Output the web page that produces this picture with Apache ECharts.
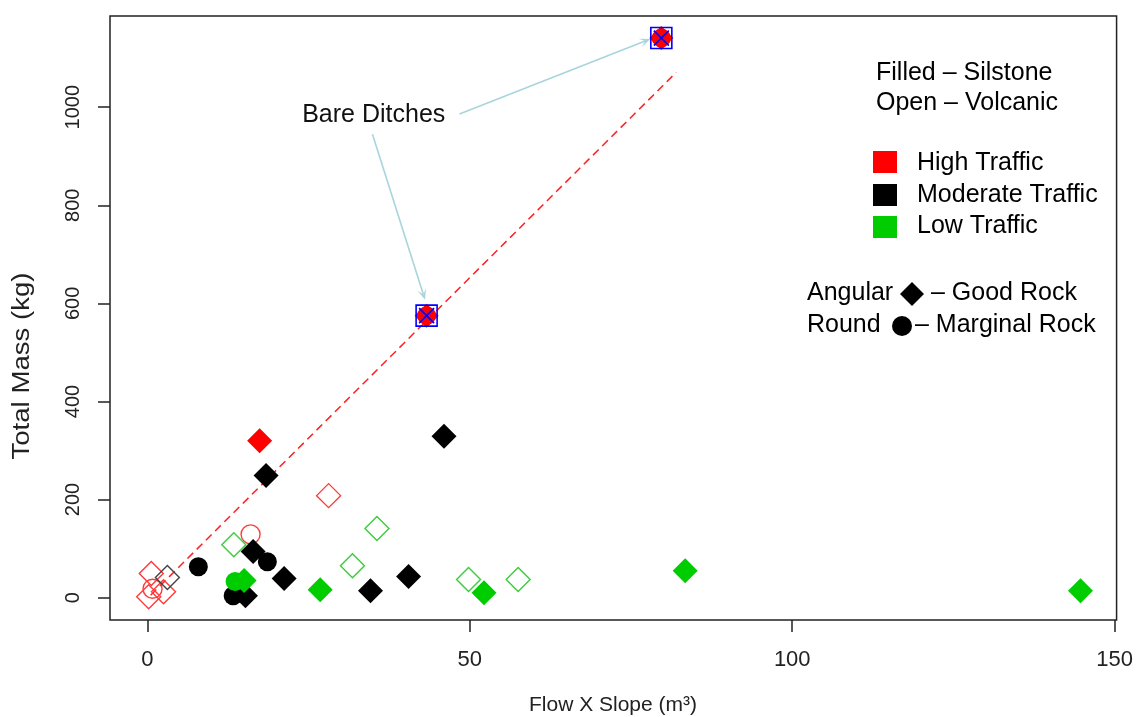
<!DOCTYPE html>
<html><head><meta charset="utf-8">
<script src="https://cdn.jsdelivr.net/npm/echarts@6/dist/echarts.min.js"></script>
<style>html,body{margin:0;padding:0;background:#fff}#c{width:1136px;height:717px}</style>
</head><body><div id="c"></div>
<script>
// ---- tick labels ----
const xTicks = [0, 50, 100, 150];
const yTicks = [0, 200, 400, 600, 800, 1000];

// ---- data: [Flow X Slope (m3), Total Mass (kg)] ----
// High traffic (red)
const redFilledDiamond = [[17.4, 320]];
const redOpenDiamond = [[28.1, 208], [0.6, 49], [0.2, 2], [2.5, 12]];
const redOpenCircle = [[16.0, 129], [0.8, 18]];
// Moderate traffic (black)
const blackFilledDiamond = [[18.4, 249], [46.0, 329], [16.4, 94], [21.2, 39], [15.2, 4], [34.6, 14], [40.5, 43]];
const blackFilledCircle = [[18.6, 73], [7.9, 63], [13.3, 4]];
const blackOpenDiamond = [[3.1, 41]];
// Low traffic (green)
const greenFilledDiamond = [[15.0, 35], [26.8, 16], [52.2, 10], [83.4, 55], [144.7, 14]];
const greenFilledCircle = [[13.6, 33]];
const greenOpenDiamond = [[13.4, 108], [31.8, 65], [35.6, 141], [49.8, 37], [57.5, 37]];
// Bare ditches (high traffic, silstone)
const bareDitches = [[43.3, 575], [79.7, 1141]];
// dashed trend line
const trendLine = [[0.5, 5], [82.0, 1071]];
// annotation arrows: from label to bare ditch points
const arrowStarts = [[48.4, 986], [34.9, 945]];
const arrowEnds = [[77.2, 1135], [42.8, 618]];
const annotationLabel = 'Bare Ditches';
const annotationPos = [35.1, 984];

const FONT = '"Liberation Sans", Arial, sans-serif';
const RED = '#ff0000', BLACK = '#000000', GREEN = '#00cd00';

function pts(name, data, symbol, size, filled, color, z, bw) {
  return {
    name, type: 'scatter', data, symbol, symbolSize: size, z: z || 3,
    silent: true,
    itemStyle: filled
      ? { color: color, borderWidth: 0, opacity: 1 }
      : { color: 'rgba(0,0,0,0)', borderColor: color, borderWidth: bw || 1.4, opacity: 1 },
    emphasis: { disabled: true }
  };
}

const chart = echarts.init(document.getElementById('c'), null, { renderer: 'canvas' });
const CROSS = 'path://M0,0L10,10M10,0L0,10';
const CHEVRON = 'path://M5,0L10,10L5,5L0,10Z';

const option = {
  animation: false,
  backgroundColor: '#ffffff',
  grid: { left: 110, right: 19, top: 16, bottom: 97, show: true, borderColor: '#222', borderWidth: 1.5, backgroundColor: 'transparent' },
  xAxis: {
    type: 'value', min: -5.8, max: 150.3,
    axisLine: { show: false, onZero: false },
    splitLine: { show: false },
    axisTick: { show: true, inside: false, length: 12, lineStyle: { color: '#222', width: 1.5 }, customValues: xTicks },
    axisLabel: { customValues: xTicks, margin: 29, fontSize: 22, fontFamily: FONT, color: '#222', formatter: v => String(v) }
  },
  yAxis: {
    type: 'value', min: -45.6, max: 1186,
    axisLine: { show: false, onZero: false },
    splitLine: { show: false },
    axisTick: { show: true, inside: false, length: 12, lineStyle: { color: '#222', width: 1.5 }, customValues: yTicks },
    axisLabel: { customValues: yTicks, rotate: 90, margin: 27, fontSize: 20, fontFamily: FONT, color: '#222', formatter: v => String(v) }
  },
  series: [
    {
      name: 'trend', type: 'line', data: trendLine, symbol: 'none', z: 2, silent: true,
      lineStyle: { color: '#ff2020', width: 1.5, type: [8, 5] }
    },
    {
      name: 'arrows', type: 'scatter', data: [], z: 2, silent: true,
      markLine: {
        silent: true, symbol: ['none', CHEVRON], symbolSize: [9, 11],
        label: { show: false },
        lineStyle: { color: '#a8d5dc', width: 1.6, type: 'solid' },
        emphasis: { disabled: true },
        data: arrowStarts.map((s, i) => [{ coord: s }, { coord: arrowEnds[i] }])
      },
      markPoint: {
        silent: true, symbol: 'rect', symbolSize: 1, itemStyle: { color: 'rgba(0,0,0,0)' },
        label: { show: true, formatter: annotationLabel, fontSize: 25, fontFamily: FONT, color: '#111', position: 'inside' },
        data: [{ coord: annotationPos }]
      }
    },
    pts('redOpenDiamond', redOpenDiamond, 'diamond', 24, false, '#ff3a3a'),
    pts('redOpenCircle', redOpenCircle, 'circle', 19, false, '#ff3a3a'),
    pts('blackOpenDiamond', blackOpenDiamond, 'diamond', 24, false, '#444444'),
    pts('greenOpenDiamond', greenOpenDiamond, 'diamond', 24, false, '#3ccc3c'),
    pts('blackFilledCircle', blackFilledCircle, 'circle', 19, true, BLACK),
    pts('blackFilledDiamond', blackFilledDiamond, 'diamond', 25, true, BLACK),
    pts('greenFilledCircle', greenFilledCircle, 'circle', 19, true, GREEN),
    pts('greenFilledDiamond', greenFilledDiamond, 'diamond', 25, true, GREEN),
    pts('redFilledDiamond', redFilledDiamond, 'diamond', 25, true, RED),
    pts('bareDiamond', bareDitches, 'diamond', 24, true, RED, 4),
    pts('bareCircle', bareDitches, 'circle', 19, true, RED, 4),
    pts('bareSquare', bareDitches, 'rect', 21, false, '#0000ff', 5, 1.6),
    pts('bareCross', bareDitches, CROSS, 15, false, '#0000ff', 5, 1.6)
  ],
  graphic: [
    { type: 'text', x: 876, y: 73, style: { text: 'Filled – Silstone', font: '25px ' + FONT, fill: '#000', verticalAlign: 'middle' } },
    { type: 'text', x: 876, y: 103, style: { text: 'Open – Volcanic', font: '25px ' + FONT, fill: '#000', verticalAlign: 'middle' } },
    { type: 'rect', shape: { x: 873, y: 151, width: 24, height: 22 }, style: { fill: RED } },
    { type: 'rect', shape: { x: 873, y: 184, width: 24, height: 22 }, style: { fill: BLACK } },
    { type: 'rect', shape: { x: 873, y: 216, width: 24, height: 22 }, style: { fill: GREEN } },
    { type: 'text', x: 917, y: 163, style: { text: 'High Traffic', font: '25px ' + FONT, fill: '#000', verticalAlign: 'middle' } },
    { type: 'text', x: 917, y: 195, style: { text: 'Moderate Traffic', font: '25px ' + FONT, fill: '#000', verticalAlign: 'middle' } },
    { type: 'text', x: 917, y: 226, style: { text: 'Low Traffic', font: '25px ' + FONT, fill: '#000', verticalAlign: 'middle' } },
    { type: 'text', x: 807, y: 293, style: { text: 'Angular', font: '25px ' + FONT, fill: '#000', verticalAlign: 'middle' } },
    { type: 'polygon', shape: { points: [[912, 282], [924, 294], [912, 306], [900, 294]] }, style: { fill: '#000' } },
    { type: 'text', x: 931, y: 293, style: { text: '– Good Rock', font: '25px ' + FONT, fill: '#000', verticalAlign: 'middle' } },
    { type: 'text', x: 807, y: 325, style: { text: 'Round', font: '25px ' + FONT, fill: '#000', verticalAlign: 'middle' } },
    { type: 'circle', shape: { cx: 902, cy: 326, r: 10 }, style: { fill: '#000' } },
    { type: 'text', x: 915, y: 325, style: { text: '– Marginal Rock', font: '25px ' + FONT, fill: '#000', verticalAlign: 'middle' } },
    { type: 'text', x: 613, y: 705, style: { text: 'Flow X Slope (m³)', font: '21px ' + FONT, fill: '#222', align: 'center', verticalAlign: 'middle' } },
    { type: 'text', x: 23, y: 366, rotation: Math.PI / 2, scaleX: 1.2, style: { text: 'Total Mass (kg)', font: '23px ' + FONT, fill: '#222', align: 'center', verticalAlign: 'middle' } }
  ]
};
chart.setOption(option);
</script>
</body></html>
